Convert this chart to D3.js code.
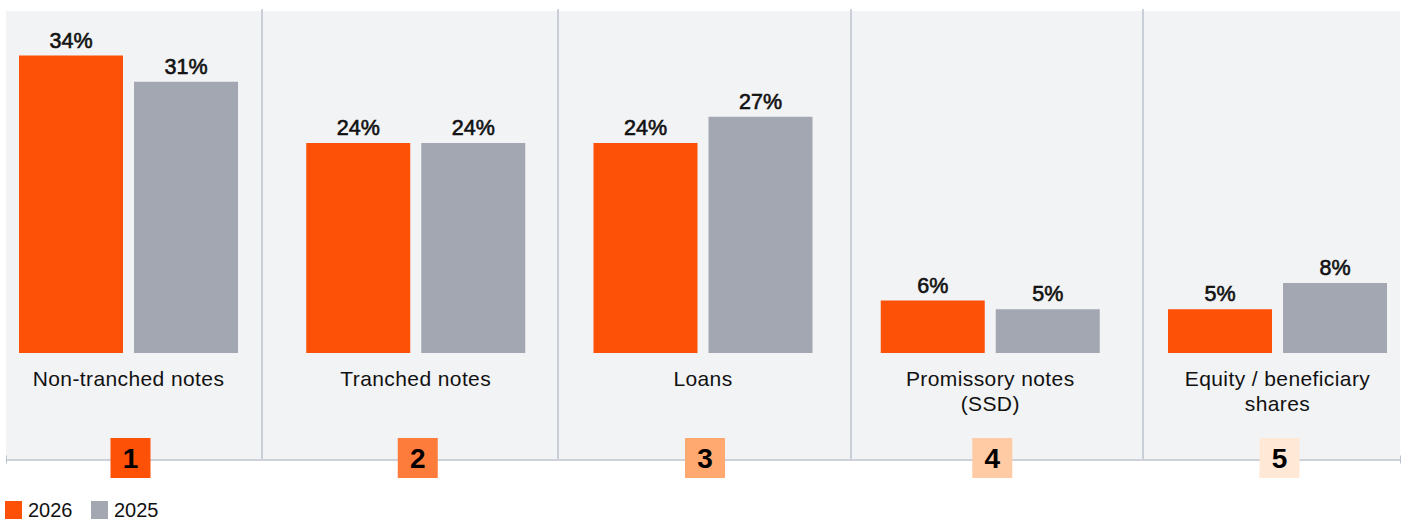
<!DOCTYPE html>
<html>
<head>
<meta charset="utf-8">
<script src="https://cdn.jsdelivr.net/npm/d3@7"></script>
<style>
  html, body { margin: 0; padding: 0; background: #ffffff; }
  svg { display: block; }
</style>
</head>
<body>
<svg id="chart" width="1405" height="521"></svg>
<script>
// Instrument types, in ranking order
const categories = ["Non-tranched notes", "Tranched notes", "Loans", "Promissory notes (SSD)", "Equity / beneficiary shares"];
const labelLines = [["Non-tranched notes"], ["Tranched notes"], ["Loans"], ["Promissory notes", "(SSD)"], ["Equity / beneficiary", "shares"]];
const ranks = ["1", "2", "3", "4", "5"];
const series = ["2026", "2025"];
const values2026 = [34, 24, 24, 6, 5];
const values2025 = [31, 24, 27, 5, 8];

const seriesColor = { "2026": "#fd5108", "2025": "#a2a7b1" };
const rankColors = ["#fd5108", "#fe7c3b", "#ffa86f", "#ffcba4", "#ffe8d6"];
const panelFill = "#f2f3f5";
const ruleColor = "#bcc2cb";
const textFont = "'Liberation Sans', Arial, Helvetica, sans-serif";

const svg = d3.select("#chart");

const panel = { left: 6, right: 1400, top: 11, bottom: 459 };
const dividers = [262, 558, 851, 1143];

const x0 = d3.scaleBand().domain(categories).range([19, 1387]).paddingInner(0.2376).paddingOuter(0);
const x1 = d3.scaleBand().domain(series).range([0, x0.bandwidth()]).paddingInner(0.0957);
const y = d3.scaleLinear().domain([0, 40]).range([353, 3]);

// panel background
svg.append("rect")
  .attr("x", panel.left).attr("y", panel.top)
  .attr("width", panel.right - panel.left).attr("height", panel.bottom - panel.top)
  .attr("fill", panelFill);

// vertical dividers between groups
svg.selectAll("line.divider").data(dividers).join("line")
  .attr("class", "divider")
  .attr("x1", d => d).attr("x2", d => d)
  .attr("y1", panel.top - 2).attr("y2", panel.bottom)
  .attr("stroke", ruleColor).attr("stroke-width", 1.5);

// baseline axis
const axisX = d3.scaleLinear().domain([0, 1]).range([panel.left, panel.right]);
const axisG = svg.append("g").attr("transform", `translate(0,${panel.bottom + 0.5})`)
  .call(d3.axisBottom(axisX).tickValues([0, 1]).tickSize(4).tickSizeOuter(0).tickFormat(""));
axisG.select(".domain").attr("stroke", ruleColor).attr("stroke-width", 1.5);
axisG.selectAll(".tick line").attr("stroke", ruleColor).attr("y1", -4).attr("y2", 4);

// bars
const rows = categories.map((c, i) => ({ cat: c, i, vals: [
  { s: "2026", v: values2026[i] },
  { s: "2025", v: values2025[i] }
]}));

const groups = svg.selectAll("g.group").data(rows).join("g")
  .attr("class", "group")
  .attr("transform", d => `translate(${x0(d.cat)},0)`);

groups.selectAll("rect.bar").data(d => d.vals).join("rect")
  .attr("class", "bar")
  .attr("x", d => x1(d.s))
  .attr("y", d => y(d.v))
  .attr("width", x1.bandwidth())
  .attr("height", d => y(0) - y(d.v))
  .attr("fill", d => seriesColor[d.s]);

// value labels, set in a medium weight
groups.selectAll("text.value").data(d => d.vals).join("text")
  .attr("class", "value")
  .attr("x", d => x1(d.s) + x1.bandwidth() / 2)
  .attr("y", d => y(d.v) - 8)
  .attr("text-anchor", "middle")
  .attr("font-family", textFont)
  .attr("font-size", 21.5)
  .attr("fill", "#111111")
  .attr("stroke", "#111111")
  .attr("stroke-width", 0.6)
  .text(d => d.v + "%");

// category labels
groups.append("text")
  .attr("class", "cat")
  .attr("text-anchor", "middle")
  .attr("font-family", textFont)
  .attr("font-size", 21)
  .attr("letter-spacing", 0.4)
  .attr("fill", "#111111")
  .selectAll("tspan").data(d => labelLines[d.i]).join("tspan")
  .attr("x", x0.bandwidth() / 2)
  .attr("y", (d, j) => 385.5 + j * 25)
  .text(d => d);

// rank badges
const badge = svg.selectAll("g.badge").data(rows).join("g")
  .attr("class", "badge")
  .attr("transform", d => `translate(${x0(d.cat) + x0.bandwidth() / 2 + 2},${panel.bottom - 1})`);
badge.append("rect")
  .attr("x", -20).attr("y", -20).attr("width", 40).attr("height", 40)
  .attr("fill", d => rankColors[d.i]);
badge.append("text")
  .attr("text-anchor", "middle")
  .attr("y", 10)
  .attr("font-family", textFont)
  .attr("font-weight", 700)
  .attr("font-size", 28)
  .attr("fill", "#000000")
  .text(d => ranks[d.i]);

// legend
const legend = svg.append("g").attr("transform", "translate(5,501)");
const legendItems = legend.selectAll("g").data(series).join("g")
  .attr("transform", (d, i) => `translate(${i * 86},0)`);
legendItems.append("rect").attr("width", 17).attr("height", 18).attr("fill", d => seriesColor[d]);
legendItems.append("text")
  .attr("x", 23).attr("y", 16)
  .attr("font-family", textFont)
  .attr("font-size", 20)
  .attr("fill", "#111111")
  .text(d => d);
</script>
</body>
</html>
